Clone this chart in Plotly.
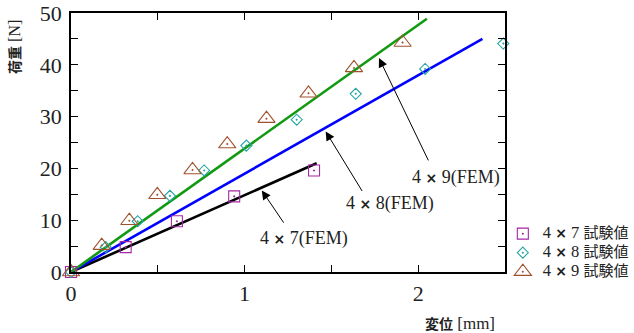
import plotly.graph_objects as go

# ---- data ----
# FEM results (straight lines from origin to end point)
fem7_x = [0, 1.415]
fem7_y = [0, 21.0]
fem8_x = [0, 2.37]
fem8_y = [0, 45.0]
fem9_x = [0, 2.05]
fem9_y = [0, 48.9]

# experimental values
exp7_x = [0, 0.315, 0.61, 0.94, 1.40]
exp7_y = [0, 4.8, 9.8, 14.6, 19.6]
exp8_x = [0, 0.20, 0.384, 0.57, 0.767, 1.01, 1.30, 1.64, 2.04, 2.49]
exp8_y = [0, 4.8, 9.8, 14.7, 19.6, 24.4, 29.4, 34.4, 39.2, 44.1]
exp9_x = [0, 0.177, 0.336, 0.497, 0.70, 0.90, 1.126, 1.368, 1.63, 1.91]
exp9_y = [0, 5.1, 9.9, 14.9, 19.7, 24.7, 29.6, 34.5, 39.4, 44.3]

fem_sizes = ["7", "8", "9"]
# annotation placement (data coords): label centre, arrow tail, arrow tip
label_x = [1.345, 1.838, 2.217]
label_y = [6.43, 13.32, 18.15]
tail_x = [1.233, 1.684, 2.064]
tail_y = [9.13, 15.25, 21.16]
tip_x = [1.099, 1.467, 1.774]
tip_y = [15.75, 27.14, 41.3]

x_tickvals = [0, 0.5, 1, 1.5, 2, 2.5]
x_ticktext = ["0", "", "1", "", "2", ""]
y_tickvals = [0, 5, 10, 15, 20, 25, 30, 35, 40, 45, 50]
y_ticktext = ["0", "", "10", "", "20", "", "30", "", "40", "", "50"]

SERIF = "Liberation Serif"
CJK = "Noto Sans CJK JP"
TXT = "#222222"
TIMES = '<span style="font-family:DejaVu Sans;font-weight:bold;font-size:14px">×</span>'

def leg(n):
    return ('<span style="font-size:16.5px">4 ' + TIMES + ' ' + n + ' </span>'
            '<span style="font-family:' + CJK + ';font-size:15px">試験値</span>')

fig = go.Figure()

fig.add_trace(go.Scatter(x=fem7_x, y=fem7_y, mode="lines",
                         line=dict(color="black", width=2.6), showlegend=False))
fig.add_trace(go.Scatter(x=fem8_x, y=fem8_y, mode="lines",
                         line=dict(color="#0000ff", width=2.6), showlegend=False))
fig.add_trace(go.Scatter(x=fem9_x, y=fem9_y, mode="lines",
                         line=dict(color="#119a11", width=2.6), showlegend=False))

fig.add_trace(go.Scatter(x=exp7_x, y=exp7_y, mode="markers", name=leg("7"),
                         cliponaxis=False,
                         marker=dict(symbol="square-open-dot", size=11, color="#a626a6",
                                     line=dict(width=1.1))))
fig.add_trace(go.Scatter(x=exp8_x, y=exp8_y, mode="markers", name=leg("8"),
                         cliponaxis=False,
                         marker=dict(symbol="diamond-open-dot", size=8.5, color="#25a5a5",
                                     line=dict(width=1.1))))
fig.add_trace(go.Scatter(x=exp9_x, y=exp9_y, mode="markers", name=leg("9"),
                         cliponaxis=False,
                         marker=dict(symbol="triangle-up-open-dot", size=15, color="#a0522d",
                                     line=dict(width=1.1))))

annotations = []
for i, n in enumerate(fem_sizes):
    annotations.append(dict(
        x=label_x[i], y=label_y[i], xref="x", yref="y", showarrow=False,
        text="4 " + TIMES + " " + n + "(FEM)",
        font=dict(family=SERIF, size=18, color=TXT),
        xanchor="center", yanchor="middle"))
    annotations.append(dict(
        x=tip_x[i], y=tip_y[i], ax=tail_x[i], ay=tail_y[i],
        xref="x", yref="y", axref="x", ayref="y",
        text=" ", font=dict(size=1), showarrow=True,
        arrowhead=2, arrowsize=1.8, arrowwidth=1, arrowcolor="black",
        standoff=0, startstandoff=0))

annotations.append(dict(
    x=-0.133, y=0.87, xref="paper", yref="paper", showarrow=False, textangle=-90,
    text='<span style="font-family:' + CJK + ';font-weight:bold;font-size:14px">荷重</span> [N]',
    font=dict(family=SERIF, size=16, color=TXT), xanchor="center", yanchor="middle"))
annotations.append(dict(
    x=0.896, y=-0.196, xref="paper", yref="paper", showarrow=False,
    text='<span style="font-family:' + CJK + ';font-weight:bold;font-size:14px">変位</span> [mm]',
    font=dict(family=SERIF, size=17, color=TXT), xanchor="center", yanchor="middle"))

fig.update_layout(
    width=634, height=333,
    margin=dict(l=71, r=129, t=13, b=61, autoexpand=False),
    paper_bgcolor="white", plot_bgcolor="white",
    font=dict(family=SERIF, color=TXT),
    showlegend=True,
    legend=dict(x=0.995, y=0.204, xanchor="left", yanchor="top",
                font=dict(family=SERIF, size=12, color=TXT),
                bgcolor="rgba(0,0,0,0)", borderwidth=0),
    annotations=annotations,
    xaxis=dict(range=[0, 2.5], tickvals=x_tickvals, ticktext=x_ticktext,
               ticks="inside", ticklen=7, tickwidth=1.2, tickcolor="black",
               showline=True, linecolor="black", linewidth=1.5, mirror="ticks",
               showgrid=False, zeroline=False,
               tickfont=dict(family=SERIF, size=22, color=TXT), ticklabelstandoff=1),
    yaxis=dict(range=[0, 50], tickvals=y_tickvals, ticktext=y_ticktext,
               ticks="inside", ticklen=7, tickwidth=1.2, tickcolor="black",
               showline=True, linecolor="black", linewidth=1.5, mirror="ticks",
               showgrid=False, zeroline=False,
               tickfont=dict(family=SERIF, size=22, color=TXT), ticklabelstandoff=3),
)

fig.write_html("out.html")
